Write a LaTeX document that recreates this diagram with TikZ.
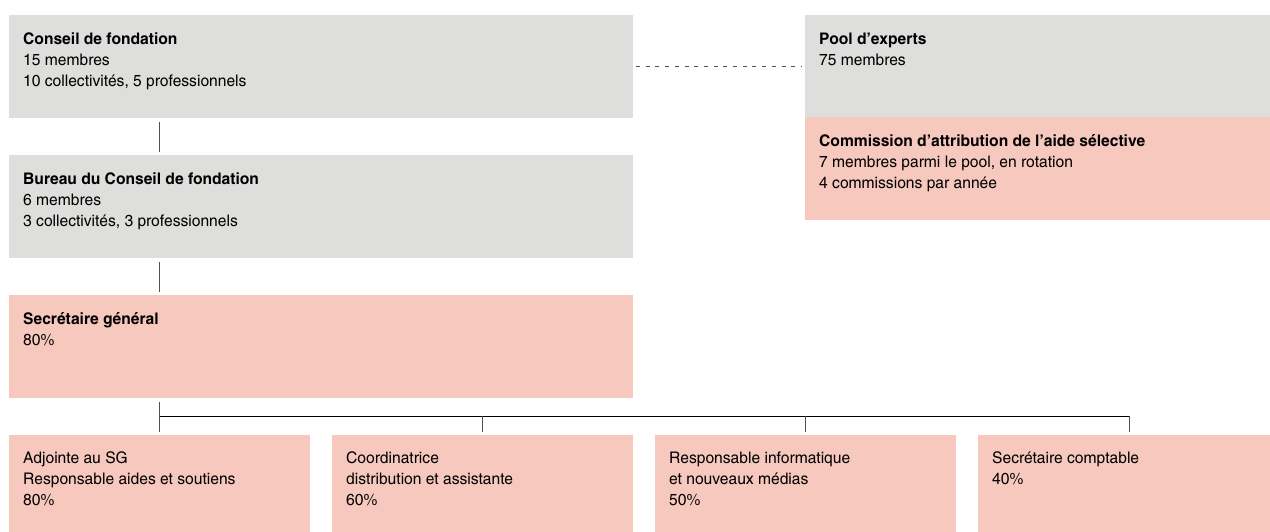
\documentclass[tikz,border=0pt]{standalone}
\usepackage{fontspec}
\setmainfont{texgyreheroscn}[Extension=.otf, UprightFont=*-regular, BoldFont=*-bold, FakeStretch=1.19]
\usetikzlibrary{calc}
\definecolor{boxgrey}{RGB}{222,222,221}
\definecolor{boxpink}{RGB}{247,200,189}
\definecolor{linegrey}{RGB}{80,80,80}
\newcommand{\firststrut}{\rule{0pt}{13pt}}
\begin{document}
\begin{tikzpicture}[x=1pt,y=-1pt,
  box/.style={anchor=north west, inner sep=0pt, outer sep=0pt, draw=none},
  greybox/.style={box, fill=boxgrey},
  pinkbox/.style={box, fill=boxpink},
  txt/.style={anchor=north west, inner sep=0pt, align=left, font=\fontsize{16}{21.2}\selectfont, text=black},
  vline/.style={draw=linegrey, line width=1pt},
  hline/.style={draw=black, line width=1pt},
  dline/.style={draw=linegrey, line width=0.9pt, dash pattern=on 4pt off 5.7pt}]
\useasboundingbox (0,0) rectangle (1270,531);
% boxes
\node[greybox, minimum width=624pt, minimum height=102.7pt] (conseil) at (9,15) {};
\node[greybox, minimum width=475pt, minimum height=102pt] (pool) at (805,15) {};
\node[pinkbox, minimum width=475pt, minimum height=102.6pt] (comm) at (805,117) {};
\node[greybox, minimum width=624pt, minimum height=102.7pt] (bureau) at (9,155) {};
\node[pinkbox, minimum width=624pt, minimum height=102.7pt] (sec) at (9,295) {};
\node[pinkbox, minimum width=301pt, minimum height=100pt] (adj) at (9,435) {};
\node[pinkbox, minimum width=301pt, minimum height=100pt] (coord) at (332,435) {};
\node[pinkbox, minimum width=301pt, minimum height=100pt] (resp) at (655,435) {};
\node[pinkbox, minimum width=302pt, minimum height=100pt] (sc) at (978,435) {};
% texts
\node[txt] (tconseil) at ($(conseil.north west)+(14,16)$) {\firststrut\textbf{Conseil de fondation}\\15 membres\\10 collectivités, 5 professionnels};
\node[txt] (tpool) at ($(pool.north west)+(14,16)$) {\firststrut\textbf{Pool d’experts}\\75 membres};
\node[txt] (tcomm) at ($(comm.north west)+(14,16)$) {\firststrut\textbf{Commission d’attribution de l’aide sélective}\\7 membres parmi le pool, en rotation\\4 commissions par année};
\node[txt] (tbureau) at ($(bureau.north west)+(14,16)$) {\firststrut\textbf{Bureau du Conseil de fondation}\\6 membres\\3 collectivités, 3 professionnels};
\node[txt] (tsec) at ($(sec.north west)+(14,16)$) {\firststrut\textbf{Secrétaire général}\\80\%};
\node[txt] (tadj) at ($(adj.north west)+(14,15.3)$) {\firststrut Adjointe au SG\\Responsable aides et soutiens\\80\%};
\node[txt] (tcoord) at ($(coord.north west)+(14,15.3)$) {\firststrut Coordinatrice\\distribution et assistante\\60\%};
\node[txt] (tresp) at ($(resp.north west)+(14,15.3)$) {\firststrut Responsable informatique\\et nouveaux médias\\50\%};
\node[txt] (tsc) at ($(sc.north west)+(14,15.3)$) {\firststrut Secrétaire comptable\\40\%};
% connectors
\coordinate (bar) at (0,416);
\draw[vline] ([yshift=-4.5pt]conseil.south -| adj.north) -- ([yshift=3.5pt]bureau.north -| adj.north);
\draw[vline] ([yshift=-4.5pt]bureau.south -| adj.north) -- ([yshift=3.5pt]sec.north -| adj.north);
\draw[vline] ([yshift=-4.5pt]sec.south -| adj.north) -- ([yshift=3.5pt]adj.north);
\draw[hline] (adj.north |- bar) -- (sc.north |- bar);
\draw[vline] (coord.north |- bar) -- ([yshift=3.5pt]coord.north);
\draw[vline] (resp.north |- bar) -- ([yshift=3.5pt]resp.north);
\draw[vline] (sc.north |- bar) -- ([yshift=3.5pt]sc.north);
\draw[dline] ($(conseil.north east)+(3,51)$) -- ($(pool.north west)+(-3,51)$);
\end{tikzpicture}
\end{document}
